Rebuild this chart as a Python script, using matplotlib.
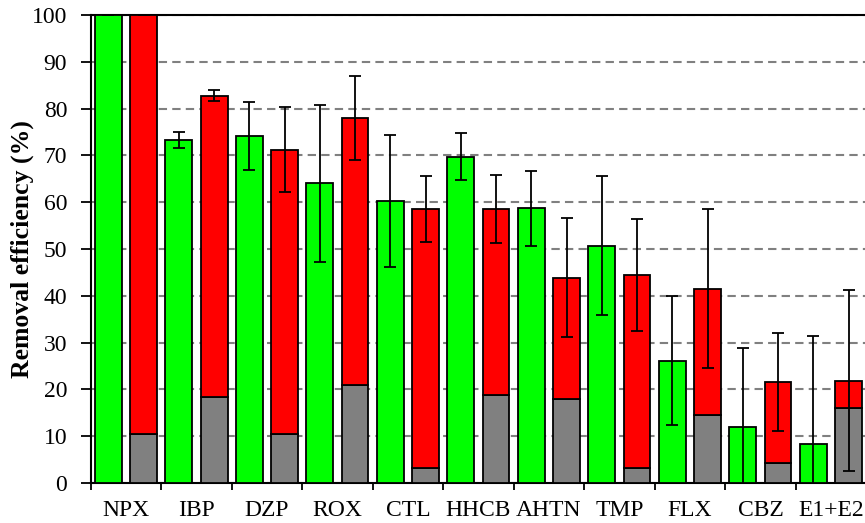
import numpy as np
import matplotlib
matplotlib.use("Agg")
import matplotlib.pyplot as plt

plt.rcParams['font.family'] = ['Liberation Serif', 'DejaVu Serif']

# compounds
cats = ['NPX', 'IBP', 'DZP', 'ROX', 'CTL', 'HHCB', 'AHTN', 'TMP', 'FLX', 'CBZ', 'E1+E2']

# green bars (one process) and their errors
green = [100, 73.3, 74.1, 64.0, 60.3, 69.7, 58.7, 50.7, 26.1, 11.9, 8.3]
green_err = [0, 1.7, 7.3, 16.7, 14.1, 5.0, 8.0, 14.8, 13.8, 17.0, 23.1]

# stacked bars: grey bottom part + red top part, error on the total
grey = [10.5, 18.4, 10.5, 20.9, 3.1, 18.9, 17.9, 3.1, 14.5, 4.2, 16.0]
total = [100, 82.8, 71.2, 78.0, 58.5, 58.5, 43.9, 44.4, 41.5, 21.6, 21.9]
total_err = [0, 1.1, 9.1, 9.0, 7.0, 7.3, 12.8, 12.0, 17.0, 10.5, 19.4]

red = [t - g for t, g in zip(total, grey)]

fig = plt.figure(figsize=(8.65, 5.23), dpi=100)
ax = fig.add_axes([0.1049, 0.0765, 0.8965, 0.8948])

x = np.arange(len(cats))
w = 0.38
lw = 1.3

ax.bar(x + 0.25, green, w, color='#00ff00', edgecolor='black', linewidth=lw, zorder=3)
ax.bar(x + 0.75, grey, w, color='#808080', edgecolor='black', linewidth=lw, zorder=3)
ax.bar(x + 0.75, red, w, bottom=grey, color='#ff0000', edgecolor='black', linewidth=lw, zorder=3)

ax.errorbar(x + 0.25, green, yerr=green_err, fmt='none', ecolor='black',
            elinewidth=1.3, capsize=4.5, capthick=1.3, zorder=4)
ax.errorbar(x + 0.75, total, yerr=total_err, fmt='none', ecolor='black',
            elinewidth=1.3, capsize=4.5, capthick=1.3, zorder=4)

ax.set_xlim(0, len(cats))
ax.set_ylim(0, 100)
ax.set_yticks(np.arange(0, 101, 10))
ax.set_xticks(x, minor=False)
ax.set_xticks(x + 0.5, minor=True)
ax.set_xticklabels([])
ax.set_xticklabels(cats, minor=True)
ax.tick_params(axis='x', which='major', direction='out', length=5, width=1.3)
ax.tick_params(axis='x', which='minor', length=0, pad=12, labelsize=17)
ax.tick_params(axis='y', direction='out', length=7, width=1.3, pad=10, labelsize=17)

ax.yaxis.grid(True, color='#808080', linestyle=(0, (4, 2.5)), linewidth=1.5, zorder=0)
ax.set_axisbelow(True)

for s in ['left', 'bottom', 'top']:
    ax.spines[s].set_linewidth(1.5)
ax.spines['right'].set_visible(False)

ax.set_ylabel('Removal efficiency (%)', fontsize=18.5, fontweight='bold')
ax.yaxis.set_label_coords(-0.073, 0.5)

fig.savefig('out.png', dpi=100)
